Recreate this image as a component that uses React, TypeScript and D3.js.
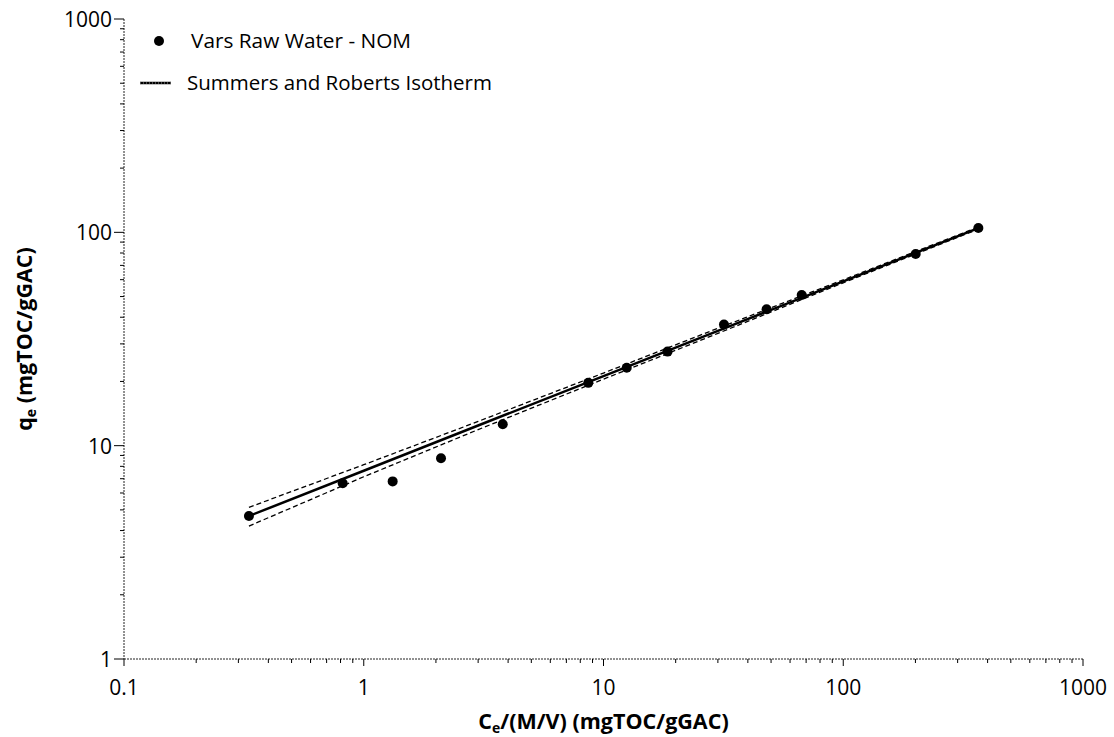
import React from "react";
import * as d3 from "d3";

const dataC = [0.332, 0.817, 1.32, 2.1, 3.8, 8.64, 12.5, 18.5, 31.8, 47.9, 67.1, 200.5, 366];
const dataQ = [4.68, 6.66, 6.8, 8.73, 12.6, 19.7, 23.2, 27.6, 37.0, 43.6, 50.8, 79.1, 104.8];

const fitC = [0.332, 1, 3, 10, 30, 100, 366];
const fitQ = [4.68, 7.63, 12.43, 21.2, 34.5, 58.9, 104.7];
const upperQ = [5.14, 8.14, 12.99, 21.9, 35.5, 59.9, 105.9];
const lowerQ = [4.2, 7.15, 11.89, 20.5, 33.6, 58.0, 103.5];

const xTicks = [0.1, 1, 10, 100, 1000];
const xTickLabels = ["0.1", "1", "10", "100", "1000"];
const yTicks = [1, 10, 100, 1000];
const yTickLabels = ["1", "10", "100", "1000"];

const legendLabels = ["Vars Raw Water - NOM", "Summers and Roberts Isotherm"];

const W = 1114;
const H = 737;
const FONT = "'Open Sans', 'Noto Sans', sans-serif";

export default function App() {
  const x = d3.scaleLog().domain([0.1, 1000]).range([124, 1083]);
  const y = d3.scaleLog().domain([1, 1000]).range([659, 19]);

  const minorX: number[] = [];
  for (let d = 0.1; d < 1000; d *= 10) {
    for (let m = 2; m <= 9; m++) minorX.push(d * m);
  }
  const minorY: number[] = [];
  for (let d = 1; d < 1000; d *= 10) {
    for (let m = 2; m <= 9; m++) minorY.push(d * m);
  }

  const line = d3
    .line<[number, number]>()
    .x((d) => x(d[0]))
    .y((d) => y(d[1]));

  const fitPts = fitC.map((c, i) => [c, fitQ[i]] as [number, number]);
  const upPts = fitC.map((c, i) => [c, upperQ[i]] as [number, number]);
  const loPts = fitC.map((c, i) => [c, lowerQ[i]] as [number, number]);

  const x0 = x(0.1);
  const x1 = x(1000);
  const y0 = y(1);
  const y1 = y(1000);

  return (
    <svg
      width={W}
      height={H}
      style={{ position: "absolute", left: 0, top: 0, background: "#fff" }}
      fontFamily={FONT}
    >
      <rect x={0} y={0} width={W} height={H} fill="#fff" />
      {/* axes */}
      <line x1={x0} x2={x1} y1={y0} y2={y0} stroke="#222" strokeWidth={1} strokeDasharray="2,1" />
      <line x1={x0} x2={x0} y1={y1} y2={y0} stroke="#222" strokeWidth={1} strokeDasharray="2,1" />
      {/* x ticks */}
      {xTicks.map((t, i) => (
        <g key={"xt" + i}>
          <line x1={x(t)} x2={x(t)} y1={y0} y2={y0 + 7} stroke="#000" strokeWidth={1} />
          <text x={x(t)} y={y0 + 36} textAnchor="middle" fontSize={21} fill="#000">
            {xTickLabels[i]}
          </text>
        </g>
      ))}
      {minorX.map((t, i) => (
        <line key={"xm" + i} x1={x(t)} x2={x(t)} y1={y0} y2={y0 + 4} stroke="#000" strokeWidth={1} />
      ))}
      {/* y ticks */}
      {yTicks.map((t, i) => (
        <g key={"yt" + i}>
          <line x1={x0 - 10} x2={x0} y1={y(t)} y2={y(t)} stroke="#000" strokeWidth={1} />
          <text x={x0 - 12} y={y(t) + 8} textAnchor="end" fontSize={21} fill="#000">
            {yTickLabels[i]}
          </text>
        </g>
      ))}
      {minorY.map((t, i) => (
        <line key={"ym" + i} x1={x0 - 4} x2={x0} y1={y(t)} y2={y(t)} stroke="#000" strokeWidth={1} />
      ))}
      {/* axis titles */}
      <text x={(x0 + x1) / 2} y={729} textAnchor="middle" fontSize={21.5} fontWeight="bold" fill="#000">
        C<tspan fontSize={14} dy={4}>e</tspan>
        <tspan dy={-4}>/(M/V) (mgTOC/gGAC)</tspan>
      </text>
      <text
        transform={`translate(32, ${(y0 + y1) / 2}) rotate(-90)`}
        textAnchor="middle"
        fontSize={21.5}
        fontWeight="bold"
        fill="#000"
      >
        q<tspan fontSize={14} dy={4}>e</tspan>
        <tspan dy={-4}> (mgTOC/gGAC)</tspan>
      </text>
      {/* confidence bands */}
      <path d={line(upPts) || ""} fill="none" stroke="#000" strokeWidth={1.3} strokeDasharray="5,3" />
      <path d={line(loPts) || ""} fill="none" stroke="#000" strokeWidth={1.3} strokeDasharray="5,3" />
      {/* fit */}
      <path d={line(fitPts) || ""} fill="none" stroke="#000" strokeWidth={2.5} />
      {/* data */}
      {dataC.map((c, i) => (
        <circle key={"p" + i} cx={x(c)} cy={y(dataQ[i])} r={5} fill="#000" />
      ))}
      {/* legend */}
      <circle cx={159} cy={41} r={5} fill="#000" />
      <text x={191} y={48} fontSize={20.8} fill="#000">
        {legendLabels[0]}
      </text>
      <line x1={140} x2={171} y1={83} y2={83} stroke="#000" strokeWidth={2.5} />
      <line x1={140} x2={171} y1={83} y2={83} stroke="#fff" strokeWidth={0.6} strokeDasharray="1,2" />
      <text x={187} y={90} fontSize={20.5} fill="#000">
        {legendLabels[1]}
      </text>
    </svg>
  );
}
